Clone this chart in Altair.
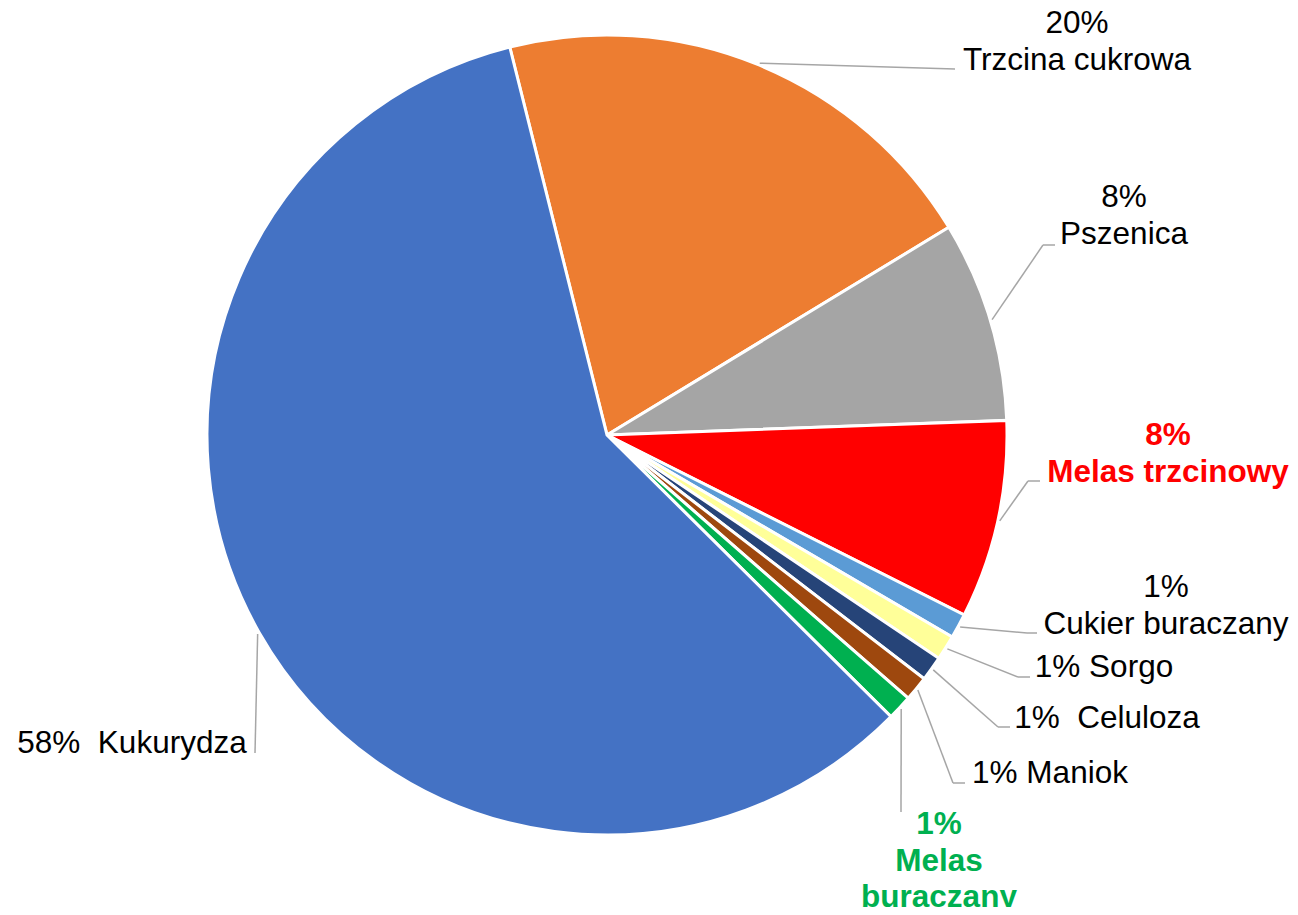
import math
import altair as alt
import pandas as pd

# ---- chart values ----
categories = ["Trzcina cukrowa", "Pszenica", "Melas trzcinowy", "Cukier buraczany",
              "Sorgo", "Celuloza", "Maniok", "Melas buraczany", "Kukurydza"]
values = [20.2, 8.1, 8.0, 1.0, 1.0, 1.0, 1.0, 1.0, 58.6]
pct_labels = ["20%", "8%", "8%", "1%", "1%", "1%", "1%", "1%", "58%"]
label_names = ["Trzcina cukrowa", "Pszenica", "Melas trzcinowy", "Cukier buraczany",
               "Sorgo", "Celuloza", "Maniok", "Melas\nburaczany", "Kukurydza"]
label_sep = ["\n", "\n", "\n", "\n", " ", "\u00a0 ", " ", "\n", "\u00a0 "]

# ---- styles ----
slice_colors = ["#ED7D31", "#A5A5A5", "#FF0000", "#5B9BD5", "#FFFF99",
                "#264478", "#9E480E", "#00B050", "#4472C4"]
label_style = ["n", "n", "red", "n", "n", "n", "n", "green", "n"]
style_props = {"n": ("#000000", "normal"), "red": ("#FF0000", "bold"), "green": ("#00B050", "bold")}

# ---- layout (pixels, offsets from the pie centre) ----
W, H = 1282, 899
CX, CY = 599, 427
R = 400
R_LEADER = 402
START_DEG = -14.07
FS = 31.5
LH = 36.5
TOP_SHIFT = round(0.79 * FS)

elbow_dx = [348, 436, 421, 420, 411, 391, 346, 294, -352]
elbow_dy = [-366, -190, 46, 198, 242, 292, 348, 377, 318]
end_dx = [348, 448, 433, 430, 423, 403, 358, 294, -352]
end_dy = [-366, -190, 46, 198, 242, 292, 348, 377, 318]
lab_dx = [470, 517, 561, 559, 497, 500, 443, 332, -475]
lab_dy = [-402, -228, 10, 162, 242, 293, 348, 399, 318]   # first-line baseline

start_rad = math.radians(START_DEG)

df = pd.DataFrame({
    "cat": categories,
    "value": values,
    "idx": list(range(len(categories))),
    "label": [p + s + n for p, s, n in zip(pct_labels, label_sep, label_names)],
    "style": label_style,
    "edx": elbow_dx, "edy": elbow_dy,
    "ndx": end_dx, "ndy": end_dy,
    "ldx": lab_dx, "ldy": lab_dy,
})

base = alt.Chart(df)

arcs = base.mark_arc(outerRadius=R, stroke="white", strokeWidth=3).encode(
    theta=alt.Theta("value:Q", stack=True,
                    scale=alt.Scale(domain=[0, sum(values)], nice=False, zero=True,
                                    range=[start_rad, start_rad + 2 * math.pi])),
    color=alt.Color("cat:N", scale=alt.Scale(domain=categories, range=slice_colors), legend=None),
    order=alt.Order("idx:Q", sort="ascending"),
    x=alt.value(CX),
    y=alt.value(CY),
)

geo = (
    base.transform_window(cum="sum(value)", sort=[alt.SortField("idx", order="ascending")],
                          frame=[None, 0])
    .transform_joinaggregate(total="sum(value)")
    .transform_calculate(
        mid=f"{start_rad} + 2*PI*(datum.cum - datum.value/2)/datum.total",
    )
    .transform_calculate(
        sx=f"{CX} + {R_LEADER}*sin(datum.mid)",
        sy=f"{CY} - {R_LEADER}*cos(datum.mid)",
        ex=f"{CX} + datum.edx",
        ey=f"{CY} + datum.edy",
        nx=f"{CX} + datum.ndx",
        ny=f"{CY} + datum.ndy",
        lx=f"{CX} + datum.ldx",
        ly=f"{CY} + datum.ldy - {TOP_SHIFT}",
    )
)

lead1 = geo.mark_rule(color="#A6A6A6", strokeWidth=1.5).encode(
    x=alt.X("sx:Q", scale=None, axis=None),
    y=alt.Y("sy:Q", scale=None, axis=None),
    x2="ex:Q", y2="ey:Q",
)
lead2 = geo.transform_filter("datum.ndx != datum.edx").mark_rule(
    color="#A6A6A6", strokeWidth=1.5).encode(
    x=alt.X("ex:Q", scale=None, axis=None),
    y=alt.Y("ey:Q", scale=None, axis=None),
    x2="nx:Q", y2="ny:Q",
)

text_layers = []
for key, (col, weight) in style_props.items():
    text_layers.append(
        geo.transform_filter(alt.datum.style == key).mark_text(
            font="Liberation Sans", fontSize=FS, lineHeight=LH, align="center",
            baseline="top", lineBreak="\n", color=col, fontWeight=weight,
        ).encode(
            x=alt.X("lx:Q", scale=None, axis=None),
            y=alt.Y("ly:Q", scale=None, axis=None),
            text="label:N",
        )
    )

chart = alt.layer(arcs, lead1, lead2, *text_layers).properties(
    width=W, height=H, padding=0, autosize="none"
).configure_view(stroke=None)

chart.save("out.html", embed_options={"renderer": "svg", "actions": False})
